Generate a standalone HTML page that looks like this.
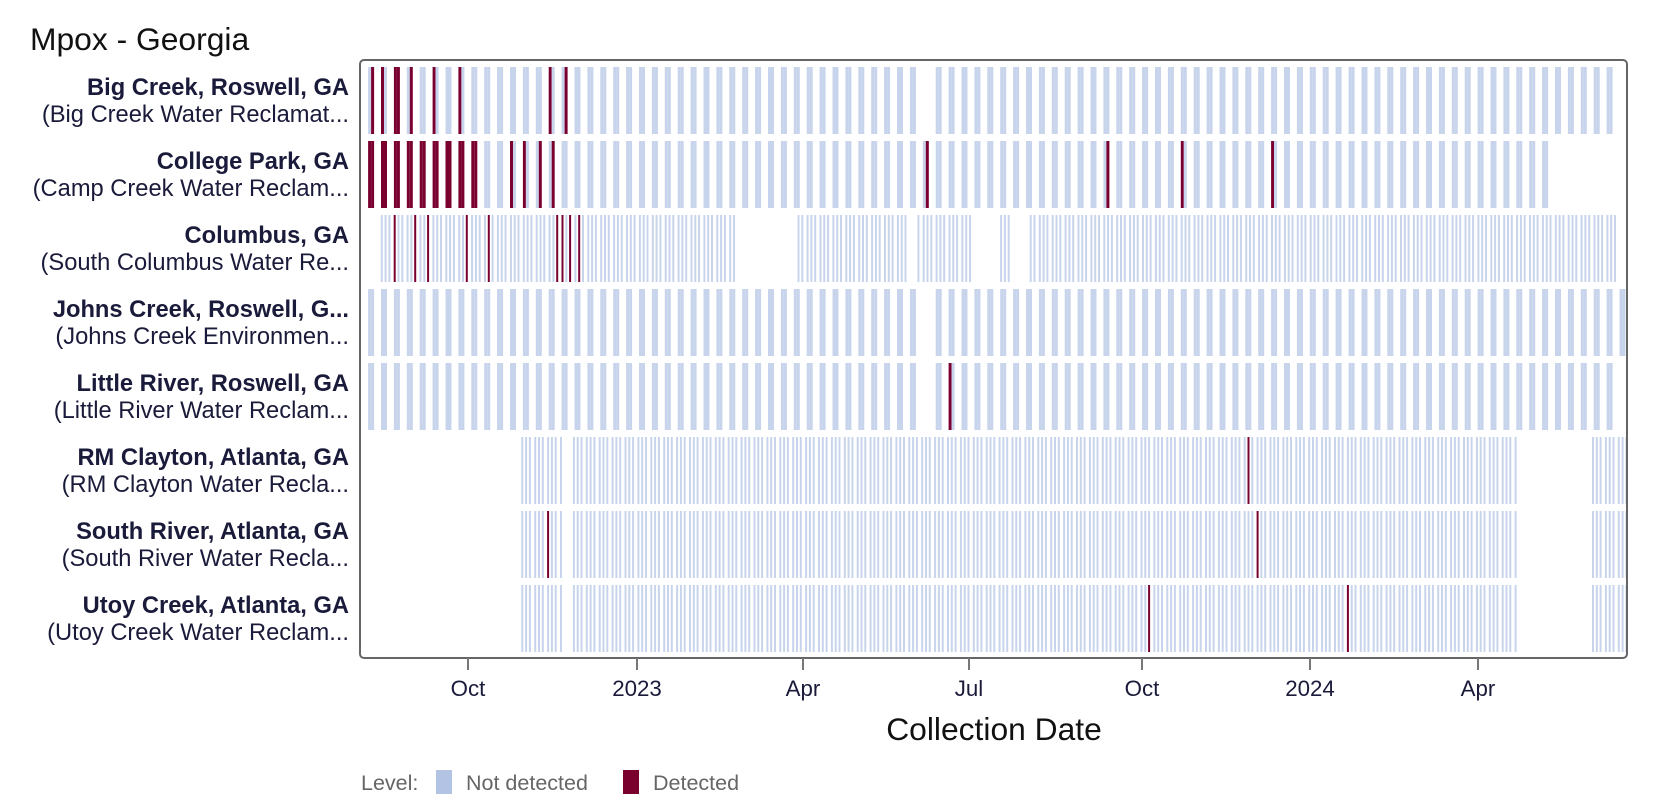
<!DOCTYPE html>
<html><head><meta charset="utf-8"><style>
html,body{margin:0;padding:0;background:#fff;}
svg{display:block;font-family:"Liberation Sans",Arial,sans-serif;}
</style></head><body>
<svg id="s" width="1668" height="810" xmlns="http://www.w3.org/2000/svg">
<text x="30" y="50" font-size="31.8" fill="#111">Mpox - Georgia</text>
<g id="bars"></g>
<rect x="360" y="60" width="1267" height="598" rx="4" fill="none" stroke="#666" stroke-width="2"/>
<g id="lab" font-size="23.7" fill="#1a1a3a" text-anchor="end"></g>
<g stroke="#777" stroke-width="2">
<line x1="468" y1="658" x2="468" y2="670"/><line x1="637" y1="658" x2="637" y2="670"/><line x1="803" y1="658" x2="803" y2="670"/><line x1="969" y1="658" x2="969" y2="670"/><line x1="1142" y1="658" x2="1142" y2="670"/><line x1="1310" y1="658" x2="1310" y2="670"/><line x1="1478" y1="658" x2="1478" y2="670"/>
</g>
<g font-size="22.3" fill="#1a1a3a" text-anchor="middle">
<text x="468" y="696">Oct</text><text x="637" y="696">2023</text><text x="803" y="696">Apr</text><text x="969" y="696">Jul</text><text x="1142" y="696">Oct</text><text x="1310" y="696">2024</text><text x="1478" y="696">Apr</text>
</g>
<text x="994" y="740" font-size="31.8" fill="#111" text-anchor="middle">Collection Date</text>
<g font-size="21.5" fill="#666">
<text x="361" y="790">Level:</text>
<rect x="436" y="770" width="16" height="24" fill="#b3c3e3"/>
<text x="466" y="790">Not detected</text>
<rect x="623" y="770" width="16" height="24" fill="#7a002e"/>
<text x="653" y="790">Detected</text>
</g>
</svg>
<script>
var S=1.0638,L="#c8d4ec",D="#7a0030";
var rows=[
["Big Creek, Roswell, GA","(Big Creek Water Reclamat..."],
["College Park, GA","(Camp Creek Water Reclam..."],
["Columbus, GA","(South Columbus Water Re..."],
["Johns Creek, Roswell, G...","(Johns Creek Environmen..."],
["Little River, Roswell, GA","(Little River Water Reclam..."],
["RM Clayton, Atlanta, GA","(RM Clayton Water Recla..."],
["South River, Atlanta, GA","(South River Water Recla..."],
["Utoy Creek, Atlanta, GA","(Utoy Creek Water Reclam..."]];
var lab=document.getElementById('lab'),g=document.getElementById('bars'),h='',t='';
rows.forEach(function(r,i){var y=95+i*74;
t+='<text x="349" y="'+y+'" font-weight="bold">'+r[0]+'</text><text x="349" y="'+(y+27)+'">'+r[1]+'</text>';});
lab.innerHTML=t;
var wk=1.843*7;
function inGap(x,gaps){for(var k=0;k<gaps.length;k++)if(x>=gaps[k][0]&&x<=gaps[k][1])return true;return false;}
function isDet(x,det,tol){for(var k=0;k<det.length;k++)if(Math.abs(x-det[k]*S)<=tol)return true;return false;}
function wide(i,start,end,gaps,det,full){var y=67+i*74;
for(var x=start*S;x<=end*S;x+=wk){if(inGap(x/S,gaps))continue;
var fd=isDet(x+3,full,4);
for(var j=0;j<2;j++){var xx=x+j*3;var d=fd||isDet(xx+1.5,det,1.6);
h+='<rect x="'+xx.toFixed(1)+'" y="'+y+'" width="3" height="67" fill="'+(d?D:L)+'"/>';}}}
function thin(i,start,end,gaps,det){var y=67+i*74;
for(var x=start*S;x<=end*S;x+=wk){for(var j=0;j<3;j++){var xx=x+j*3.8;if(inGap(xx/S,gaps))continue;
var d=isDet(xx,det,1.9);
h+='<rect x="'+xx.toFixed(1)+'" y="'+y+'" width="2" height="67" fill="'+(d?D:L)+'"/>';}}}
wide(0,346,1515,[[858,879]],[350,359,386,408,432,516,518,532],[372]);
var d2=[];for(var x=346;x<=448;x+=wk/S)d2.push(x);
wide(1,346,1455,[[858,866]],[481,494,507,520,872,1041,1111,1197],d2);
wide(3,346,1523,[[858,879]],[],[]);
wide(4,346,1520,[[858,878]],[892],[]);
thin(2,358,1515,[[692,747],[855,860],[912,940],[948,965]],[371,390,402,439,460,523,528,535,543]);
for(var i=5;i<8;i++){var det=[[1173],[515,1182],[1080,1267]][i-5];
thin(i,490,1523,[[529,537],[1427,1495]],det);}
g.innerHTML=h;
</script>
</body></html>
